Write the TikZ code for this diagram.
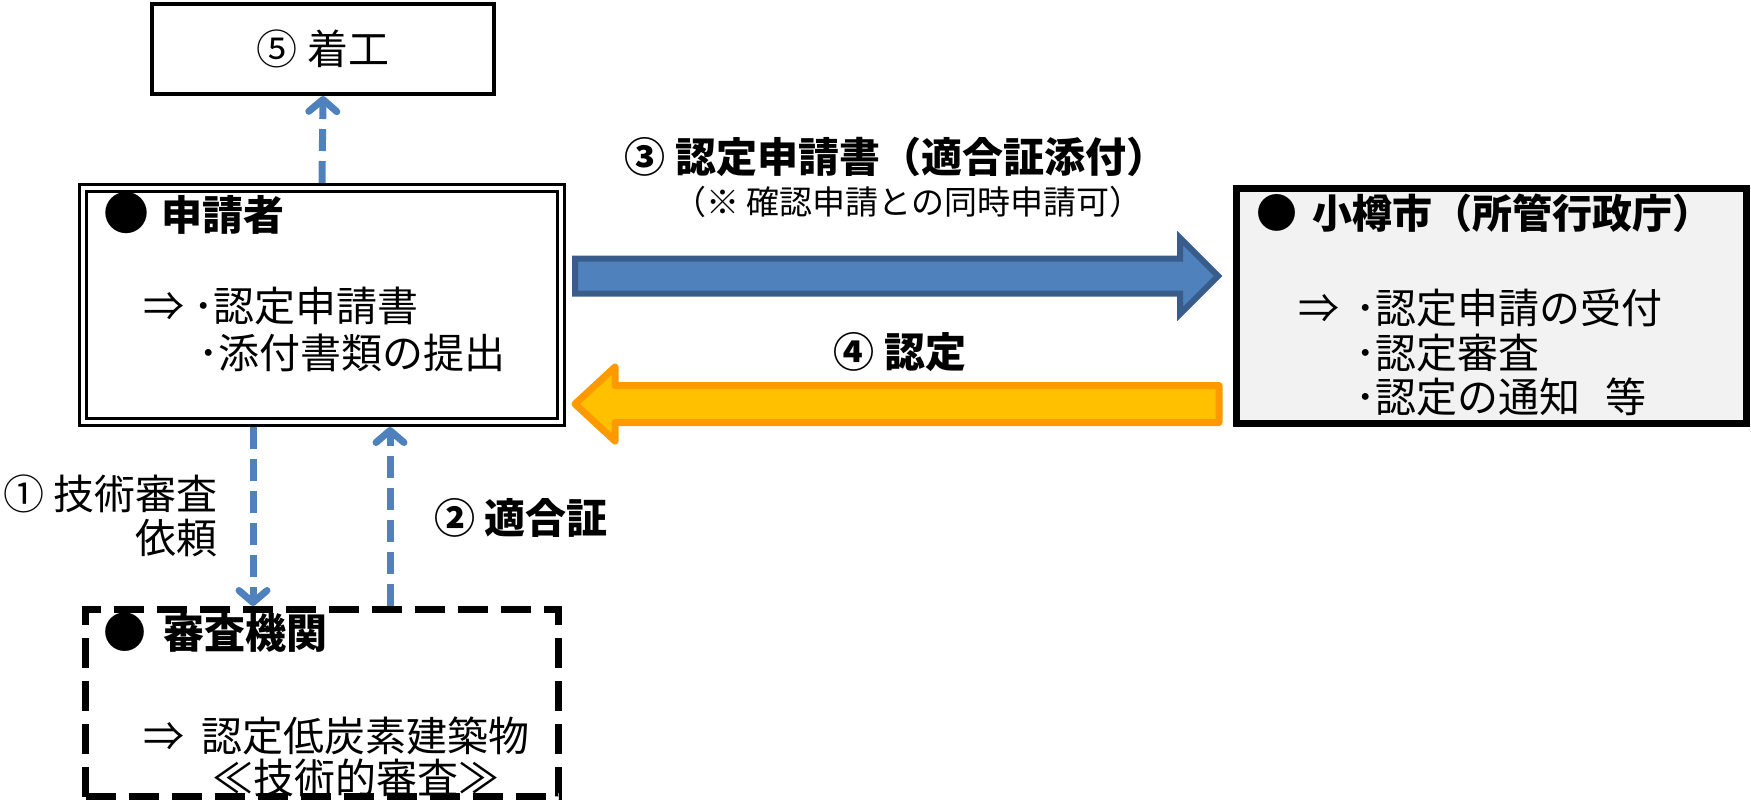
\documentclass[tikz,border=0pt]{standalone}
\usepackage{fontspec}
\setmainfont{Noto Sans CJK JP}
\usetikzlibrary{positioning,arrows.meta,calc}
\usepackage{xcolor}
\definecolor{ablue}{RGB}{79,129,189}
\definecolor{abluedark}{RGB}{56,93,138}
\definecolor{agold}{RGB}{255,192,0}
\definecolor{aorange}{RGB}{255,153,0}

\begin{document}
\begin{tikzpicture}[x=1pt,y=-1pt,
    every node/.style={inner sep=0pt,font=\fontsize{41}{47}\selectfont},
    txt/.style={anchor=base west},
    head/.style={anchor=base west,font=\fontsize{41}{47}\selectfont\bfseries},
    dasharr/.style={draw=ablue,line width=7pt,dash pattern=on 22pt off 10pt,-{Straight Barb[length=12pt,width=28pt,round]}},
    bluearr/.style={draw=abluedark,fill=ablue,line width=6pt},
    goldarr/.style={draw=aorange,fill=agold,line width=7pt,line join=round}]
    \useasboundingbox (0,0) rectangle (1751,801);
    % boxes
    \node[draw,line width=4pt,minimum width=342pt,minimum height=90pt] (start) at (323,49) {⑤ 着工};
    \node[draw,double,line width=3pt,double distance=4pt,outer sep=5pt,minimum width=478pt,minimum height=234pt] (app) at (322,305) {};
    \node[draw,line width=7pt,fill=black!5,minimum width=510pt,minimum height=235pt] (city) at (1491.5,306) {};
    \node[draw,line width=7pt,dash pattern=on 30pt off 13pt,minimum width=473pt,minimum height=187pt] (exam) at (322,703) {};
    % texts in boxes
    \node[head] (apph) at (103,230) {{\fontsize{46}{46}\selectfont ●}\hspace{12pt}申請者};
    \node[txt] (app1) at (143,321) {⇒ ･認定申請書};
    \node[txt] (app2) at (198,368) {･添付書類の提出};
    \node[head] (cityh) at (1256,228) {●\hspace{15pt}{\fontsize{40}{46}\selectfont 小樽市（所管行政庁）}};
    \node[txt] (city1) at (1298,323) {⇒\hspace{16pt}･認定申請の受付};
    \node[txt] (city2) at (1355,368) {･認定審査};
    \node[txt] (city3) at (1355,412) {･認定の通知\hspace{25pt}等};
    \node[head] (examh) at (103,648) {{\fontsize{43}{43}\selectfont ●}\hspace{17pt}審査機関};
    \node[txt] (exam1) at (143,751) {⇒\hspace{17pt}認定低炭素建築物};
    \node[txt] (exam2) at (212,793) {≪技術的審査≫};
    % labels
    \node[head,anchor=base] (lab3) at (896,172) {③ 認定申請書（適合証添付）};
    \node[anchor=base,font=\fontsize{33}{38}\selectfont] (lab3b) at (908,214) {（※ 確認申請との同時申請可）};
    \node[head,anchor=base] (lab4) at (900,367) {④ 認定};
    \node[txt,anchor=base east] (lab1) at (218,509) {① 技術審査};
    \node[txt,anchor=base east] (lab1b) at (218,553) {依頼};
    \node[head] (lab2) at (434,533) {② 適合証};
    % block arrows
    \coordinate (a3s) at (575,276); \coordinate (a3e) at (1218,276);
    \coordinate (a4s) at (1219,404); \coordinate (a4e) at (575,404);
    \draw[bluearr] (a3s) ++(0,-17.5) -- ++(605,0) -- ++(0,-20.5) -- (a3e) -- ++(-38,38) -- ++(0,-20.5) -- ++(-605,0) -- cycle;
    \draw[goldarr] (a4s) ++(0,-18.5) -- ++(-604,0) -- ++(0,-18.5) -- (a4e) -- ++(40,37) -- ++(0,-18.5) -- ++(604,0) -- cycle;
    % dashed arrows
    \draw[dasharr] (app.north) -- (start.south);
    \draw[dasharr] ([xshift=-69pt]app.south) -- ([xshift=-69pt]exam.north);
    \draw[dasharr] ([xshift=68pt]exam.north) -- ([xshift=68pt]app.south);
\end{tikzpicture}
\end{document}
